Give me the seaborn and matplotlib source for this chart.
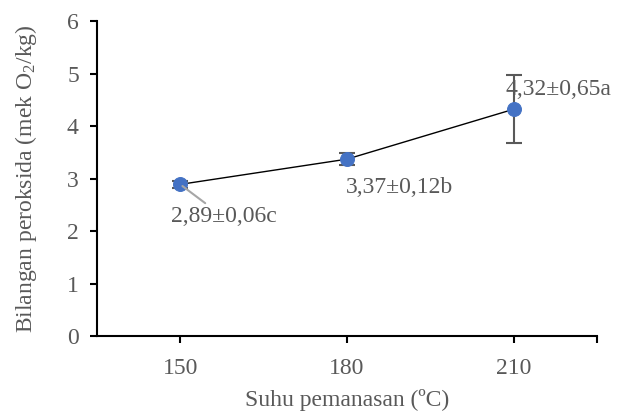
import matplotlib
matplotlib.use("Agg")
import matplotlib.pyplot as plt
import seaborn as sns
import pandas as pd
import numpy as np

categories = ["150", "180", "210"]
values = [2.89, 3.37, 4.32]
errors = [0.06, 0.12, 0.65]
labels = ["2,89±0,06c", "3,37±0,12b", "4,32±0,65a"]
yticks = [0, 1, 2, 3, 4, 5, 6]

sns.set_theme(style="white")
plt.rcParams["font.family"] = ["Liberation Serif", "DejaVu Serif"]
plt.rcParams["mathtext.fontset"] = "custom"
plt.rcParams["mathtext.rm"] = "Liberation Serif"
plt.rcParams["mathtext.it"] = "Liberation Serif:italic"

gray = "#595959"
blue = "#4472C4"
fs = 17

df = pd.DataFrame({"pos": np.arange(len(categories)), "val": values, "err": errors})

fig = plt.figure(figsize=(6.25, 4.12), dpi=100)
ax = fig.add_axes([0.155, 0.184, 0.80, 0.765])

ax.errorbar(df["pos"], df["val"], yerr=df["err"], fmt="none", ecolor=gray,
            elinewidth=1.5, capsize=5.8, capthick=1.5, zorder=2)
sns.lineplot(data=df, x="pos", y="val", ax=ax, color="black", linewidth=1.0,
             marker="o", markersize=10, markerfacecolor=blue,
             markeredgecolor=blue, zorder=3)

ax.set_xlim(-0.5, 2.5)
ax.set_ylim(0, 6)
ax.set_xticks(df["pos"])
ax.set_xticklabels(categories)
ax.set_xticks([2.5], minor=True)
ax.set_yticks(yticks)
ax.set_yticklabels([str(t) for t in yticks])

for s in ["top", "right"]:
    ax.spines[s].set_visible(False)
for s in ["left", "bottom"]:
    ax.spines[s].set_color("black")
    ax.spines[s].set_linewidth(1.5)

ax.tick_params(axis="both", which="both", direction="out", length=5, width=1.5,
               color="black", labelsize=fs, labelcolor=gray, left=True, bottom=True)
ax.tick_params(axis="x", pad=11)
ax.tick_params(axis="y", pad=8)

ax.set_xlabel("Suhu pemanasan (ºC)", fontsize=fs, color=gray, labelpad=7)
ax.set_ylabel("Bilangan peroksida (mek O$_2$/kg)", fontsize=fs, color=gray, labelpad=20)

text_pos = [(0.26, 2.27), (1.313, 2.84), (2.271, 4.70)]
for i, (lab, (tx, ty)) in enumerate(zip(labels, text_pos)):
    if i == 0:
        ax.annotate(lab, xy=(df["pos"][i], values[i]), xytext=(tx, ty),
                    ha="center", va="center", fontsize=fs, color=gray,
                    arrowprops=dict(arrowstyle="-", color="#A6A6A6", lw=1.5,
                                    shrinkA=0, shrinkB=2))
    else:
        ax.text(tx, ty, lab, ha="center", va="center", fontsize=fs, color=gray)

fig.savefig("out.png", dpi=100)
